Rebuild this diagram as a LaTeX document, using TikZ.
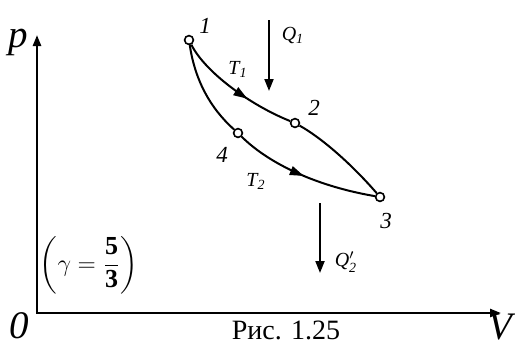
\documentclass[tikz,border=0pt]{standalone}
\usepackage{amsmath}
\usepackage{fontspec}
\setmainfont{Liberation Serif}
\usetikzlibrary{arrows.meta,decorations.markings}
\tikzset{
  pt/.style={circle,draw,fill=white,line width=0.8pt,minimum size=4.4pt,inner sep=0pt},
  curve/.style={line width=1pt},
  axis/.style={line width=1.2pt},
  lbl/.style={font=\fontsize{11.5}{11.5}\selectfont\itshape,inner sep=0pt},
  small/.style={font=\fontsize{10}{10}\selectfont\itshape,inner sep=0pt},
  big/.style={font=\fontsize{19.5}{19.5}\selectfont\itshape,inner sep=0pt},
  midarrow/.style={postaction={decorate,decoration={markings,mark=at position #1 with {\arrow{Triangle[length=7pt,width=4.5pt]}}}}},
  heat/.style={line width=1pt,-{Triangle[length=6pt,width=4.5pt]}}
}
\begin{document}
\begin{tikzpicture}[x=0.5pt,y=-0.5pt]
\useasboundingbox (0,0) rectangle (515,345);
% axes
\coordinate (O) at (37,313);
\coordinate (ytip) at (37,35);
\coordinate (xtip) at (501,313);
\draw[axis,{Triangle[length=5.5pt,width=4pt]}-{Triangle[length=5.5pt,width=4pt]}] (ytip) -- (O) -- (xtip);
\node[big] (plab) at (18,42) {p};
\node[big,anchor=base] (olab) at (19,338) {0};
\node[big,anchor=base] (vlab) at (500,339) {V};
\node[font=\fontsize{14}{14}\selectfont,anchor=base,inner sep=0pt] (cap) at (286,339) {Рис. 1.25};
% points
\node[pt] (p1) at (189,40) {};
\node[pt] (p2) at (295,123) {};
\node[pt] (p3) at (380,197) {};
\node[pt] (p4) at (238,133) {};
% curves
\draw[curve,midarrow=0.62] (p1) .. controls (205,72) and (250,105) .. (p2);
\draw[curve] (p2) .. controls (325,140) and (355,168) .. (p3);
\draw[curve] (p1) .. controls (195,80) and (210,108) .. (p4);
\draw[curve,midarrow=0.5] (p4) .. controls (265,160) and (310,185) .. (p3);
% labels
\node[lbl] (l1) at (205,26) {1};
\node[lbl] (l2) at (314,108) {2};
\node[lbl] (l3) at (386,221) {3};
\node[lbl] (l4) at (222,155) {4};
\node[small] (t1) at (238,69) {T\textsubscript{1}};
\node[small] (t2) at (256,181) {T\textsubscript{2}};
% heat arrows
\coordinate (q1s) at (269,20);
\coordinate (q1e) at (269,91);
\draw[heat] (q1s) -- (q1e);
\node[small] (q1) at (293,35) {Q\textsubscript{1}};
\coordinate (q2s) at (320,203);
\coordinate (q2e) at (320,273);
\draw[heat] (q2s) -- (q2e);
\node[small] (q2) at (346,262) {Q$'_{\textit{2}}$};
% gamma
\node[font=\fontsize{13}{13}\selectfont,inner sep=0pt] (gam) at (89,265) {$\displaystyle\left(\gamma=\frac{\mathbf{5}}{\mathbf{3}}\right)$};
\end{tikzpicture}
\end{document}
